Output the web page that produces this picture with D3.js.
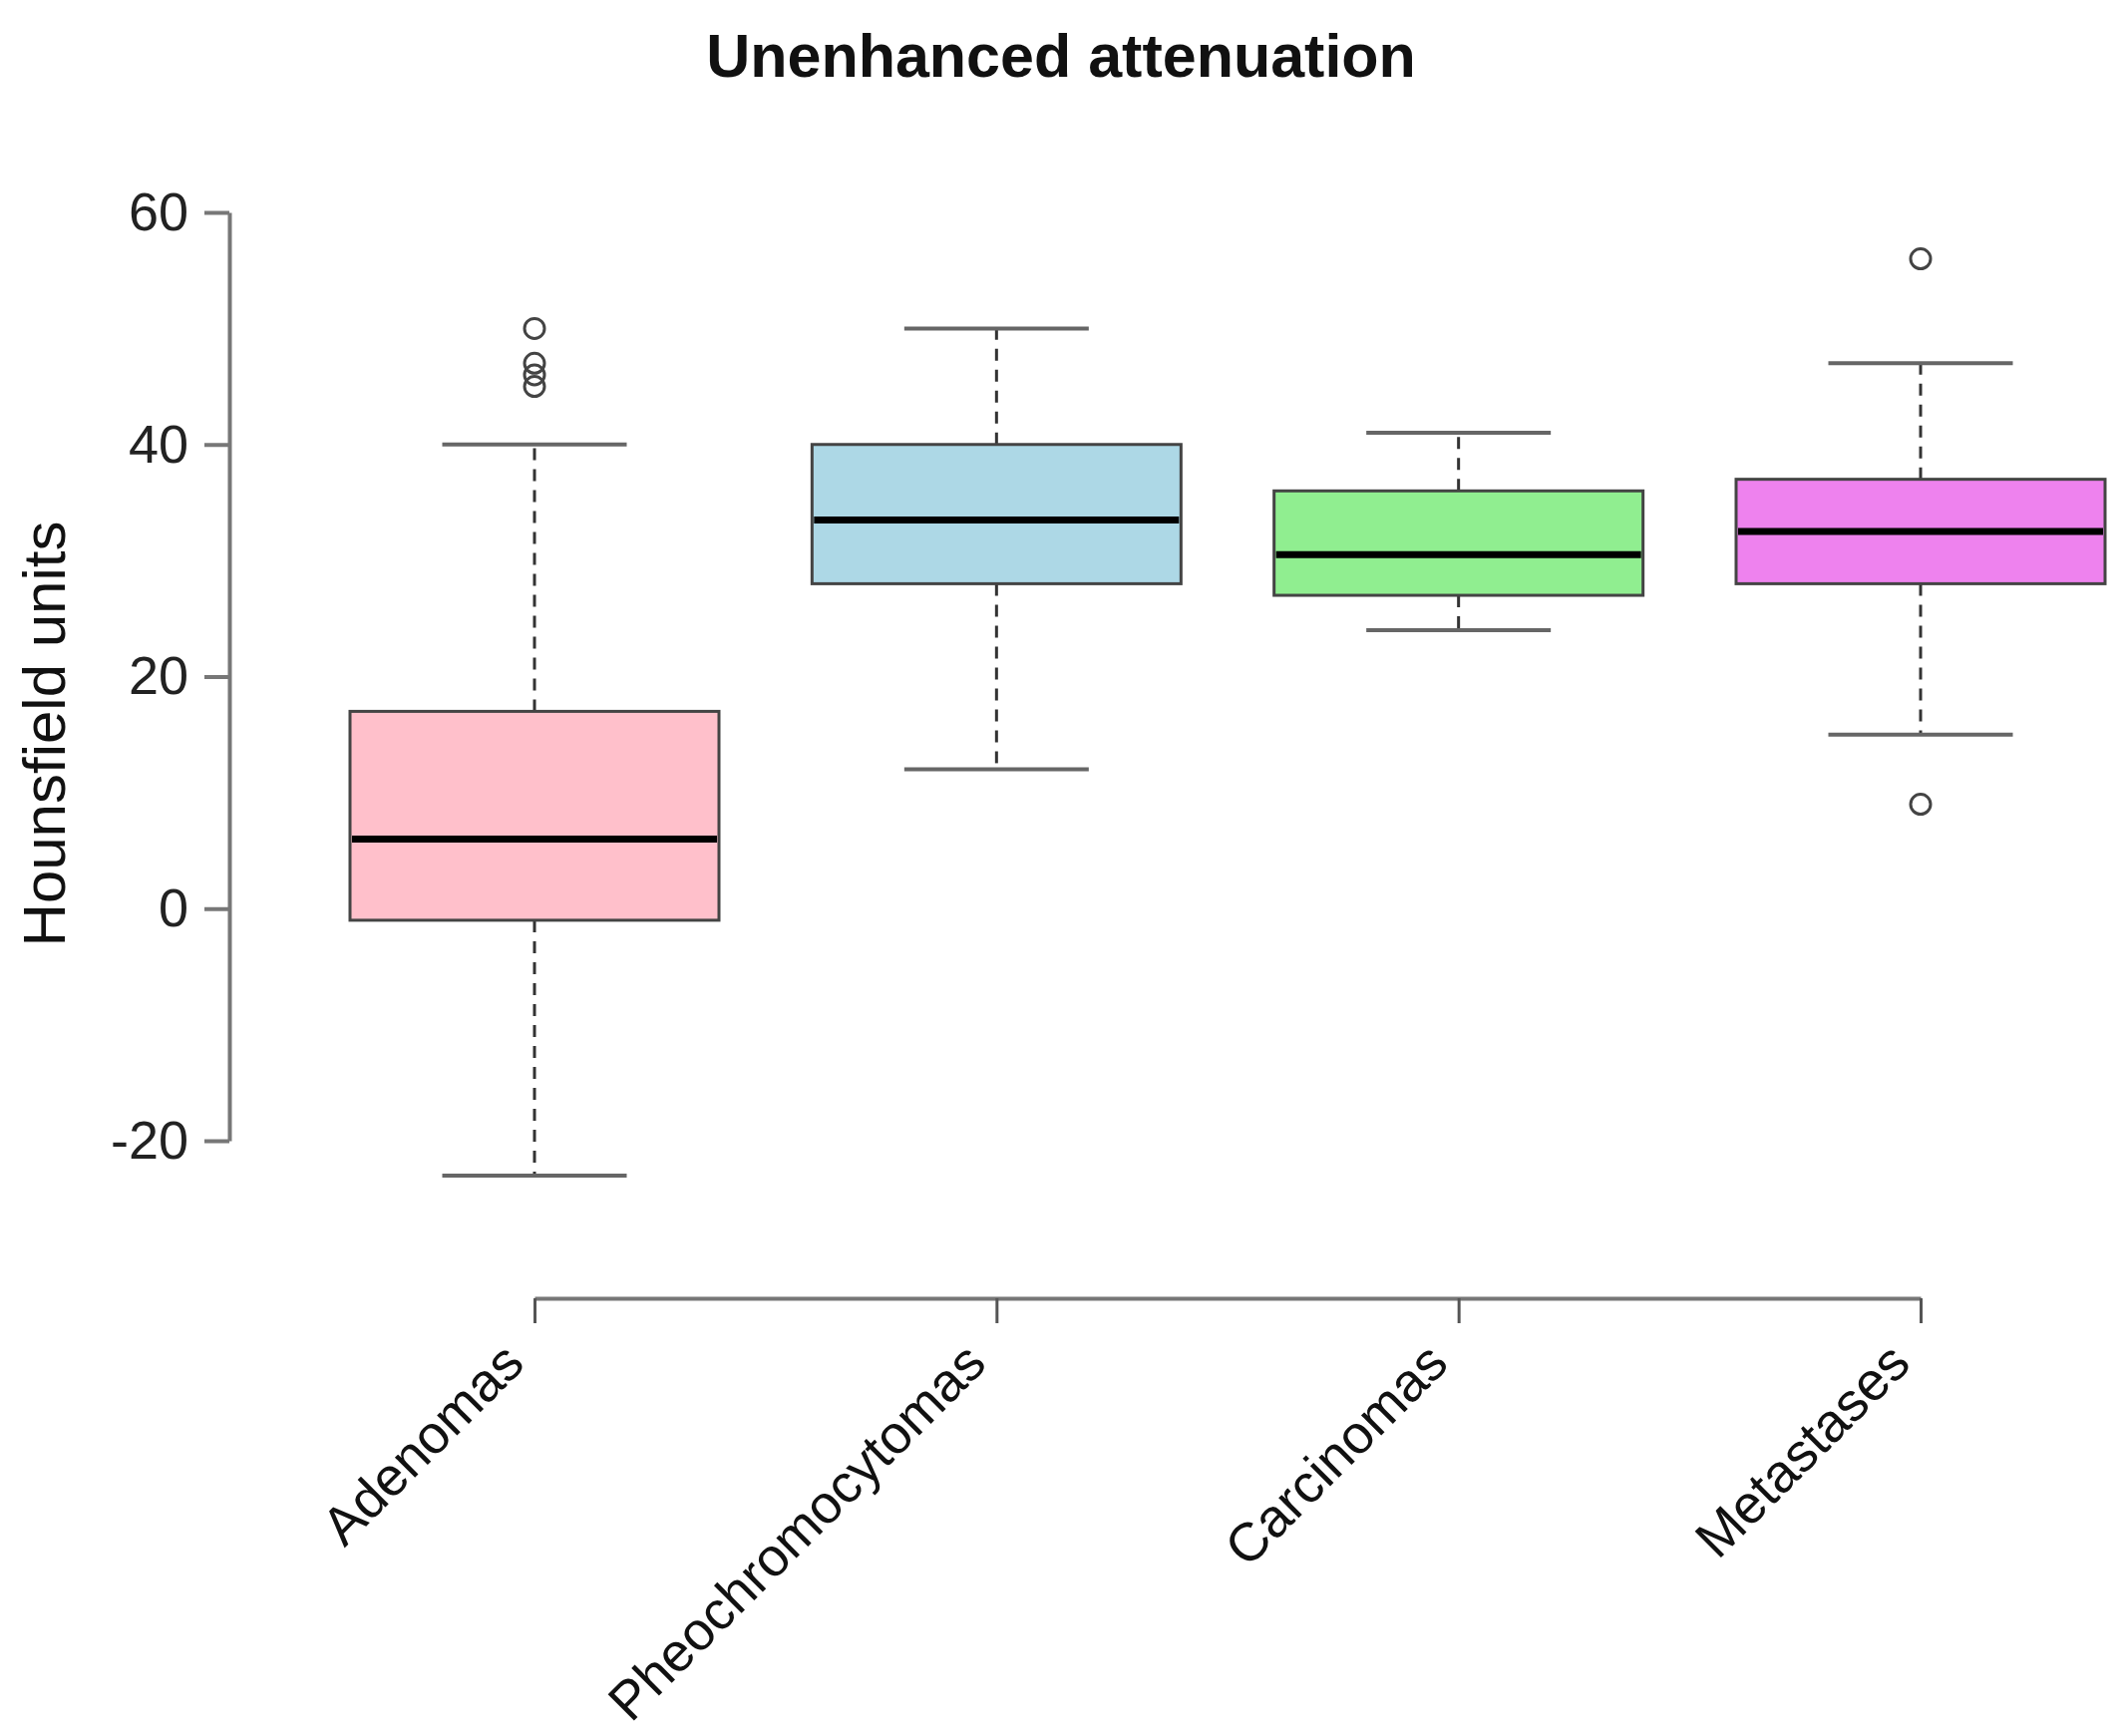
<!DOCTYPE html>
<html>
<head>
<meta charset="utf-8">
<script src="https://cdn.jsdelivr.net/npm/d3@7"></script>
<style>
  body { margin: 0; background: #fff; }
  text { font-family: "Liberation Sans", Arial, Helvetica, sans-serif; fill: #111; }
</style>
</head>
<body>
<svg></svg>
<script>
const size = {w: 2133, h: 1741};
const svg = d3.select('svg')
    .attr('width', size.w)
    .attr('height', size.h);

// data (Hounsfield units)
const groups   = ['Adenomas', 'Pheochromocytomas', 'Carcinomas', 'Metastases'];
const colors   = ['#FFC0CB', '#ADD8E6', '#90EE90', '#EE82EE'];
const lowWhisk = [-23, 12, 24, 15];
const q1       = [-1, 28, 27, 28];
const medians  = [6, 33.5, 30.5, 32.5];
const q3       = [17, 40, 36, 37];
const upWhisk  = [40, 50, 41, 47];
const outliers = [[45, 46, 47, 50], [], [], [56, 9]];
const yTicks   = [-20, 0, 20, 40, 60];

const stats = groups.map((g, i) => ({
    name: g, color: colors[i], lo: lowWhisk[i], q1: q1[i],
    med: medians[i], q3: q3[i], hi: upWhisk[i], out: outliers[i]
}));

const y = d3.scaleLinear().domain([-20, 60]).range([1144, 213]);
const x = d3.scalePoint().domain(groups).range([536, 1926]);
const boxW = 370;

// title
svg.append('text')
    .attr('x', 1064).attr('y', 77)
    .attr('text-anchor', 'middle')
    .style('font-size', '61px')
    .style('font-weight', 'bold')
    .text('Unenhanced attenuation');

// y axis
const yAxis = svg.append('g').attr('transform', 'translate(230,0)')
    .call(d3.axisLeft(y).tickValues(yTicks).tickSize(25).tickPadding(16)
        .tickSizeOuter(0).tickFormat(d => String(d)));
yAxis.select('.domain').attr('stroke', '#777').attr('stroke-width', 4);
yAxis.selectAll('.tick line').attr('stroke', '#777').attr('stroke-width', 4);
yAxis.selectAll('.tick text').style('font-size', '54px').style('fill', '#222')
    .attr('font-family', '"Liberation Sans", Arial, sans-serif');

svg.append('text')
    .attr('transform', 'translate(65,736) rotate(-90)')
    .attr('text-anchor', 'middle')
    .style('font-size', '60px')
    .text('Hounsfield units');

// x axis
const xAxis = svg.append('g').attr('transform', 'translate(0,1302)')
    .call(d3.axisBottom(x).tickSize(25).tickSizeOuter(0).tickFormat(''));
xAxis.select('.domain').attr('stroke', '#777').attr('stroke-width', 4);
xAxis.selectAll('.tick line').attr('stroke', '#555').attr('stroke-width', 3);

svg.append('g').selectAll('text')
    .data(groups)
    .join('text')
    .attr('transform', d => 'translate(' + (x(d) - 8) + ',1370) rotate(-45)')
    .attr('text-anchor', 'end')
    .style('font-size', '54px')
    .text(d => d);

// boxes
const boxG = svg.append('g').selectAll('g')
    .data(stats)
    .join('g')
    .attr('transform', d => 'translate(' + x(d.name) + ',0)');

// dashed whiskers
boxG.append('line')
    .attr('x1', 0).attr('x2', 0)
    .attr('y1', d => y(d.q3)).attr('y2', d => y(d.hi))
    .attr('stroke', '#333').attr('stroke-width', 3).attr('stroke-dasharray', '12,9');
boxG.append('line')
    .attr('x1', 0).attr('x2', 0)
    .attr('y1', d => y(d.q1)).attr('y2', d => y(d.lo))
    .attr('stroke', '#333').attr('stroke-width', 3).attr('stroke-dasharray', '12,9');

// caps
boxG.selectAll('line.cap')
    .data(d => [d.lo, d.hi])
    .join('line')
    .classed('cap', true)
    .attr('x1', -boxW / 4).attr('x2', boxW / 4)
    .attr('y1', v => y(v)).attr('y2', v => y(v))
    .attr('stroke', '#666').attr('stroke-width', 4);

boxG.append('rect')
    .attr('x', -boxW / 2).attr('width', boxW)
    .attr('y', d => y(d.q3))
    .attr('height', d => y(d.q1) - y(d.q3))
    .attr('fill', d => d.color)
    .attr('stroke', '#444').attr('stroke-width', 3);

boxG.append('line')
    .attr('x1', -boxW / 2 + 2).attr('x2', boxW / 2 - 2)
    .attr('y1', d => y(d.med)).attr('y2', d => y(d.med))
    .attr('stroke', '#000').attr('stroke-width', 7);

// outliers
boxG.selectAll('circle')
    .data(d => d.out)
    .join('circle')
    .attr('cx', 0)
    .attr('cy', v => y(v))
    .attr('r', 10)
    .attr('fill', 'none')
    .attr('stroke', '#444')
    .attr('stroke-width', 3);
</script>
</body>
</html>
